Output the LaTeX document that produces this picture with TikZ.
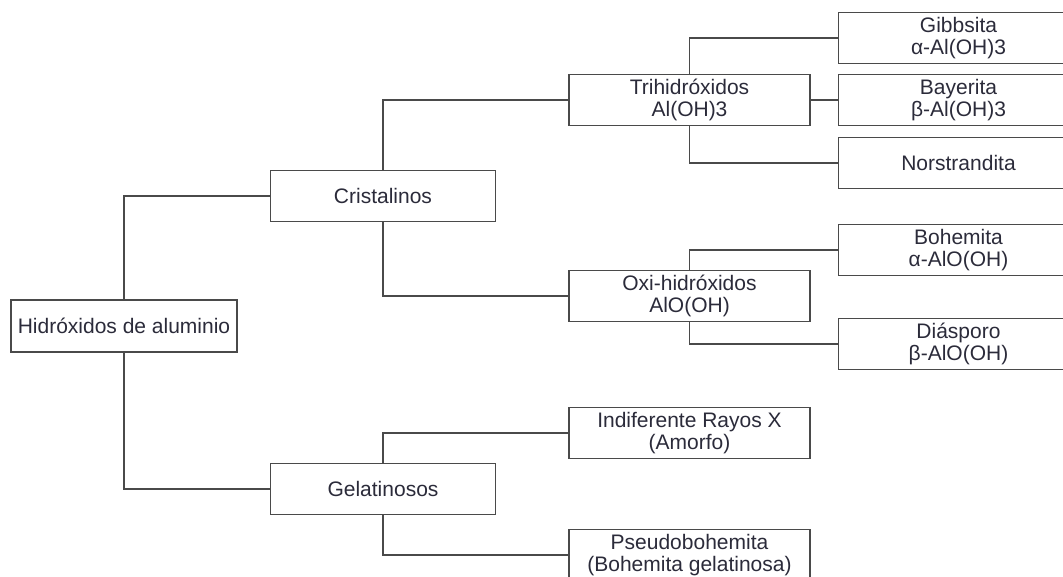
\documentclass[tikz,border=0pt]{standalone}
\usepackage{fontspec}
\setmainfont{Liberation Sans}
\usetikzlibrary{positioning}
\definecolor{linegray}{HTML}{4A4A4A}
\definecolor{textdark}{HTML}{2B2B3A}
\tikzset{box/.style = {draw=linegray, rectangle, minimum width=225pt, minimum height=51pt, inner sep=0pt, align=center, text=textdark, font=\fontsize{21}{22}\selectfont}}
\tikzset{mid/.style = {box, minimum width=241pt}}
\tikzset{leaf/.style = {box, minimum width=240pt}}
\tikzset{link/.style = {draw=linegray}}

\begin{document}
\begin{tikzpicture}[x=1pt, y=-1pt, line width=1.5pt]
  \useasboundingbox (0,0) rectangle (1063,576);
  \fill[white] (0,0) rectangle (1063,576);

  \node [box, minimum width=226pt, minimum height=52pt] (root) at (124,326) {Hidróxidos de aluminio};
  \node [box, right=32pt of root, yshift=130pt] (cris) {Cristalinos};
  \node [box, right=32pt of root, yshift=-163pt] (gel) {Gelatinosos};

  \node [mid, right=72pt of cris, yshift=96pt] (tri) {Trihidróxidos\\Al(OH)3};
  \node [mid, right=72pt of cris, yshift=-100pt] (oxi) {Oxi-hidróxidos\\AlO(OH)};
  \node [mid, right=72pt of gel, yshift=56pt] (ind) {Indiferente Rayos X\\(Amorfo)};
  \node [mid, right=72pt of gel, yshift=-66pt] (pse) {Pseudobohemita\\(Bohemita gelatinosa)};

  \node [leaf, right=27pt of tri, yshift=62pt] (gib) {Gibbsita\\α-Al(OH)3};
  \node [leaf, right=27pt of tri] (bay) {Bayerita\\β-Al(OH)3};
  \node [leaf, right=27pt of tri, yshift=-63pt] (nor) {Norstrandita};
  \node [leaf, right=27pt of oxi, yshift=46pt] (boh) {Bohemita\\α-AlO(OH)};
  \node [leaf, right=27pt of oxi, yshift=-48pt] (dia) {Diásporo\\β-AlO(OH)};

  \draw[link] (root.north) |- (cris.west);
  \draw[link] (root.south) |- (gel.west);

  \draw[link] (cris.north) |- (tri.west);
  \draw[link] (cris.south) |- (oxi.west);
  \draw[link] (gel.north) |- (ind.west);
  \draw[link] (gel.south) |- (pse.west);

  \draw[link] (tri.north) |- (gib.west);
  \draw[link] (tri.east) -- (bay.west);
  \draw[link] (tri.south) |- (nor.west);
  \draw[link] (oxi.north) |- (boh.west);
  \draw[link] (oxi.south) |- (dia.west);
\end{tikzpicture}
\end{document}
